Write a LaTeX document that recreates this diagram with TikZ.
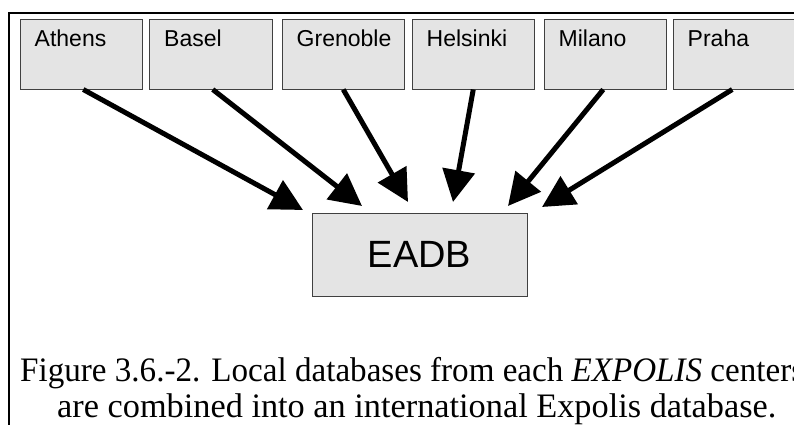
\documentclass[tikz,border=0pt]{standalone}
\usepackage{graphicx}
\usepackage{fontspec}
\setmainfont{Liberation Serif}
\newfontfamily\arialfont{Liberation Sans}
\usetikzlibrary{arrows.meta}
\definecolor{boxfill}{HTML}{E4E4E4}
\definecolor{boxline}{HTML}{404040}
\tikzset{
  citybox/.style={draw=boxline, fill=boxfill, line width=1pt, rectangle, anchor=north west, minimum height=70pt, inner sep=0pt, outer sep=0pt},
  citytext/.style={anchor=base west, inner sep=0pt, font=\arialfont\fontsize{23pt}{26pt}\selectfont},
  eadbbox/.style={draw=boxline, fill=boxfill, line width=1pt, rectangle, minimum width=215pt, minimum height=83pt, inner sep=0pt, font=\arialfont\fontsize{38pt}{44pt}\selectfont},
  arr/.style={line width=5pt, -{Triangle[length=32pt, width=32pt]}},
  frame/.style={line width=2pt, black},
  captext/.style={anchor=base west, inner sep=0pt, font=\fontsize{34.3pt}{38pt}\selectfont}
}
\begin{document}
\begin{tikzpicture}[x=1pt, y=-1pt]
\useasboundingbox (0,0) rectangle (794,425);
% frame
\coordinate (fA) at (9,425);
\coordinate (fB) at (9,13.5);
\coordinate (fC) at (800,13.5);
\draw[frame] (fA) -- (fB) -- (fC);
% city boxes
\foreach \name/\x/\txt in {athens/20/Athens, basel/149.5/Basel, grenoble/282/Grenoble, helsinki/412/Helsinki, milano/544/Milano, praha/673/Praha} {
  \node[citybox, minimum width=122.5pt] (\name) at (\x,19.5) {};
  \node[citytext] (\name-t) at ([xshift=14.5pt, yshift=-27.5pt]\name.north west) {\txt};
}
% EADB
\node[eadbbox] (eadb) at (419.5,254.5) {EADB};
% arrow tips
\coordinate (t1) at (303,210);
\coordinate (t2) at (362,206);
\coordinate (t3) at (408,202);
\coordinate (t4) at (453,202);
\coordinate (t5) at (508,206);
\coordinate (t6) at (542,207);
\draw[arr] ([xshift=2pt]athens.south) -- (t1);
\draw[arr] ([xshift=2pt]basel.south) -- (t2);
\draw[arr] (grenoble.south) -- (t3);
\draw[arr] (helsinki.south) -- (t4);
\draw[arr] ([xshift=-2pt]milano.south) -- (t5);
\draw[arr] ([xshift=-2pt]praha.south) -- (t6);
% caption
\node[captext] (cap1) at (20,381) {\scalebox{0.965}[1]{Figure 3.6.-2. Local databases from each \textit{EXPOLIS} centers}};
\node[captext] (cap2) at (57,417) {are combined into an international Expolis database.};
\end{tikzpicture}
\end{document}
